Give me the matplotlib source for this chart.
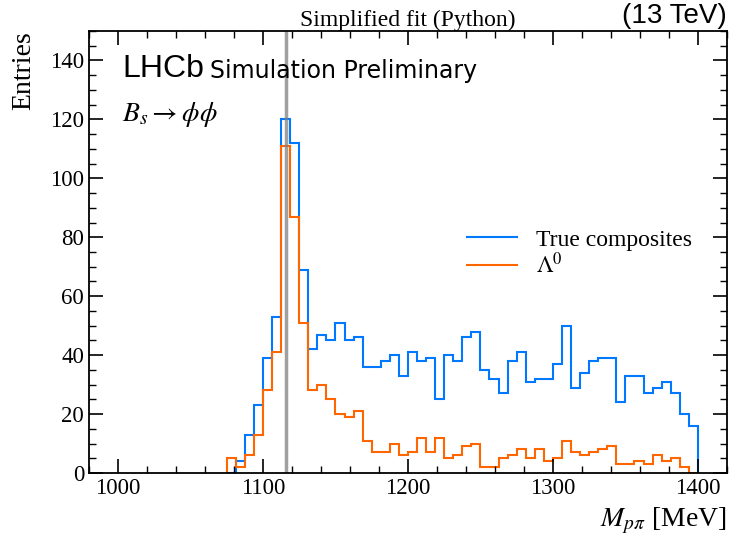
import numpy as np
import matplotlib
matplotlib.use("Agg")
import matplotlib.pyplot as plt
from matplotlib.ticker import MultipleLocator

# Histogram binning: 6.25 MeV bins from 1075 to 1400 MeV
edges = np.linspace(1075, 1400, 53)

# Entries per bin
true_composites = [0, 4, 13, 23, 39, 53, 120, 112, 69, 42, 47, 45, 51, 45, 46,
                   36, 36, 38, 40, 33, 41, 38, 39, 25, 40, 38, 46, 48, 35, 32,
                   27, 38, 41, 31, 32, 32, 37, 50, 29, 34, 38, 39, 39, 24, 33,
                   33, 27, 29, 31, 27, 20, 16]
lambda0 = [5, 2, 6, 13, 28, 41, 111, 87, 51, 28, 30, 25, 20, 19, 21,
           11, 7, 7, 10, 6, 7, 12, 7, 12, 5, 6, 9, 10, 2, 2,
           5, 6, 8, 5, 8, 4, 5, 11, 7, 6, 7, 8, 9, 3, 3,
           4, 3, 6, 4, 5, 2, 0]

m_lambda = 1115.683  # PDG Lambda mass

plt.rcParams['font.family'] = ['Liberation Serif', 'DejaVu Serif']
plt.rcParams['mathtext.fontset'] = 'stix'

fig = plt.figure(figsize=(7.32, 5.38), dpi=100)
ax = fig.add_axes([0.1216, 0.1208, 0.8714, 0.8216])

ax.stairs(true_composites, edges, color='#0078FF', lw=1.5, label='True composites')
ax.stairs(lambda0, edges, color='#FF6600', lw=1.5, label=r'$\Lambda^0$')
ax.axvline(m_lambda, color='gray', lw=2.5, alpha=0.75)

ax.set_xlim(980, 1420)
ax.set_ylim(0, 150)
ax.xaxis.set_major_locator(MultipleLocator(100))
ax.xaxis.set_minor_locator(MultipleLocator(20))
ax.yaxis.set_major_locator(MultipleLocator(20))
ax.yaxis.set_minor_locator(MultipleLocator(5))
ax.tick_params(which='both', direction='in', top=True, right=True, labelsize=16.5)
ax.tick_params(which='major', length=10, width=1.2)
ax.tick_params(which='minor', length=5, width=1.0)
for s in ax.spines.values():
    s.set_linewidth(1.3)

ax.set_ylabel('Entries', fontsize=20, loc='top', labelpad=10)
ax.set_xlabel(r'$M_{p\pi}$ [MeV]', fontsize=20, loc='right', labelpad=5)
ax.set_title('Simplified fit (Python)', fontsize=17, pad=3)
ax.text(1.0, 1.004, '(13 TeV)', transform=ax.transAxes, ha='right', va='bottom',
        fontsize=20, family='Liberation Sans')

ax.text(0.052, 0.948, 'LHCb', transform=ax.transAxes, ha='left', va='top',
        fontsize=23, family='Liberation Sans')
ax.text(0.19, 0.937, 'Simulation Preliminary', transform=ax.transAxes, ha='left', va='top',
        fontsize=17, family='DejaVu Sans')
ax.text(0.052, 0.845, r'$B_s \to \phi\phi$', transform=ax.transAxes, ha='left', va='top',
        fontsize=20)

ax.legend(loc='upper left', bbox_to_anchor=(0.56, 0.60), frameon=False, fontsize=17,
          handlelength=2.1, labelspacing=0.1)

fig.savefig('out.png', dpi=100)
